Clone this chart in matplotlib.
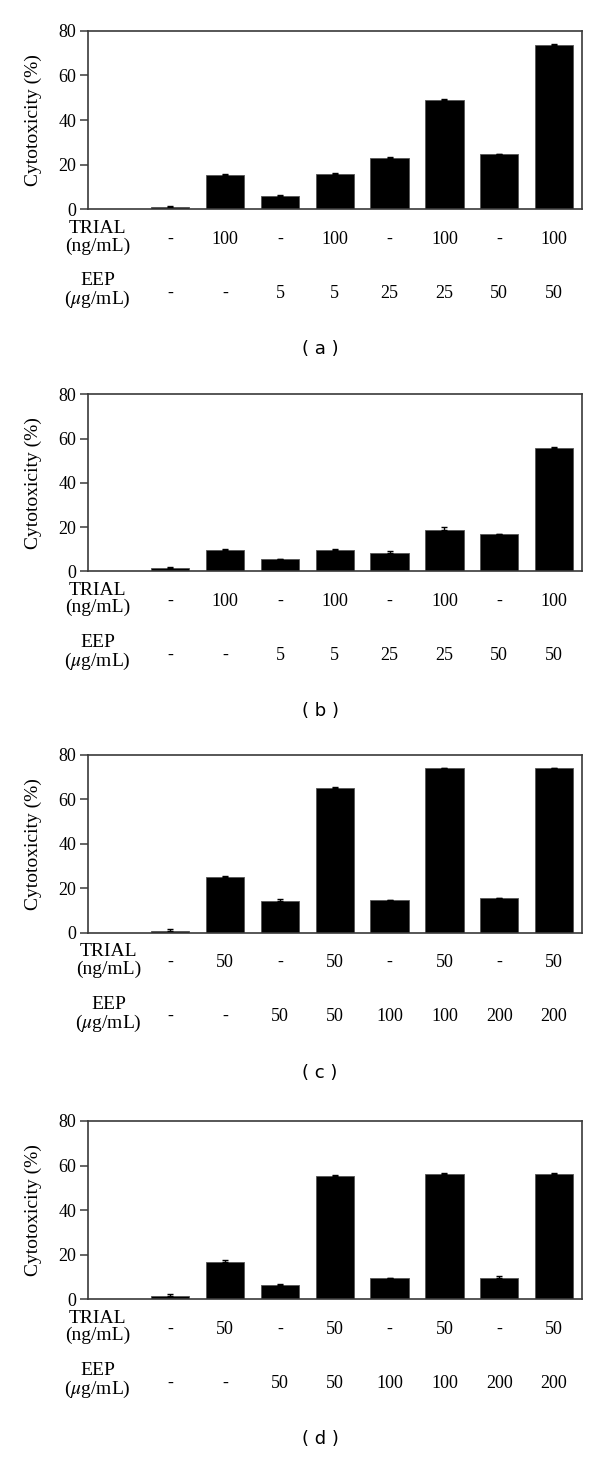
import matplotlib
matplotlib.use("Agg")
import matplotlib.pyplot as plt
import numpy as np

# bar values (category 0 is the empty label slot)
values_a = [1.2, 15.4, 6.0, 16.0, 23.1, 49.0, 24.6, 73.8]
errors_a = [0.3, 0.3, 0.3, 0.3, 0.3, 0.3, 0.3, 0.3]
values_b = [1.7, 9.6, 5.4, 9.6, 8.4, 18.8, 16.9, 55.9]
errors_b = [0.3, 0.3, 0.2, 0.3, 0.7, 1.2, 0.0, 0.2]
values_c = [0.8, 25.1, 14.1, 65.3, 14.7, 74.0, 15.5, 74.0]
errors_c = [1.0, 0.3, 0.9, 0.3, 0.0, 0.0, 0.3, 0.3]
values_d = [1.5, 16.6, 6.6, 55.5, 9.4, 56.4, 9.4, 56.4]
errors_d = [1.0, 1.0, 0.3, 0.3, 0.3, 0.3, 1.0, 0.3]

trial_ab = ["-", "100", "-", "100", "-", "100", "-", "100"]
eep_ab = ["-", "-", "5", "5", "25", "25", "50", "50"]
trial_cd = ["-", "50", "-", "50", "-", "50", "-", "50"]
eep_cd = ["-", "-", "50", "50", "100", "100", "200", "200"]

panel_tags = ["( a )", "( b )", "( c )", "( d )"]
y_ticks = [0, 20, 40, 60, 80]

SERIF = ["Liberation Serif", "DejaVu Serif"]
FS_TICK = 13
FS_ROW = 14
SPINE = "#3a3a3a"

plt.rcParams.update({"font.family": SERIF, "mathtext.fontset": "stix"})

fig = plt.figure(figsize=(6, 14.6), dpi=100)

# axes boxes in figure fraction: left, bottom, width, height
boxes = [
    (0.1467, 0.8566, 0.8225, 0.1223),
    (0.1467, 0.6087, 0.8225, 0.1212),
    (0.1467, 0.3612, 0.8225, 0.1217),
    (0.1467, 0.1101, 0.8225, 0.1221),
]
panels = [
    (values_a, errors_a, trial_ab, eep_ab, -0.33),
    (values_b, errors_b, trial_ab, eep_ab, -0.33),
    (values_c, errors_c, trial_cd, eep_cd, -0.12),
    (values_d, errors_d, trial_cd, eep_cd, -0.33),
]


def px(v):
    # pixels -> points at dpi 100
    return v * 72 / 100


for box, (vals, errs, trial, eep, lab_x), tag in zip(boxes, panels, panel_tags):
    ax = fig.add_axes(box)
    x = np.arange(1, len(vals) + 1)
    ax.bar(x, vals, width=0.7, color="black", edgecolor="#555555", linewidth=0.6)
    ax.errorbar(x, vals, yerr=[np.zeros(len(errs)), errs], fmt="none",
                ecolor="black", elinewidth=1.0, capsize=2.5, capthick=1.0)
    ax.set_xlim(-0.5, 8.5)
    ax.set_ylim(0, 80)
    ax.set_yticks(y_ticks)
    ax.set_yticklabels([str(t) for t in y_ticks], fontsize=FS_TICK)
    ax.set_xticks([])
    ax.tick_params(axis="y", direction="out", length=5.5, width=1.1, color=SPINE, pad=3)
    for side in ("top", "right", "left", "bottom"):
        ax.spines[side].set_color(SPINE)
        ax.spines[side].set_linewidth(1.2)
    ax.set_ylabel("Cytotoxicity (%)", fontsize=14, labelpad=12)

    for xi, t, e in zip(x, trial, eep):
        ax.annotate(t, xy=(xi, 0), xycoords=("data", "axes fraction"),
                    xytext=(0, -px(30)), textcoords="offset points",
                    ha="center", va="center", fontsize=FS_TICK)
        ax.annotate(e, xy=(xi, 0), xycoords=("data", "axes fraction"),
                    xytext=(0, -px(84)), textcoords="offset points",
                    ha="center", va="center", fontsize=FS_TICK)
    ax.annotate("TRIAL\n(ng/mL)", xy=(lab_x, 0), xycoords=("data", "axes fraction"),
                xytext=(0, -px(28)), textcoords="offset points",
                ha="center", va="center", fontsize=FS_ROW, linespacing=1.0)
    ax.annotate("EEP\n($\\mu$g/mL)", xy=(lab_x, 0), xycoords=("data", "axes fraction"),
                xytext=(0, -px(82)), textcoords="offset points",
                ha="center", va="center", fontsize=FS_ROW, linespacing=1.0)
    ax.annotate(tag, xy=(0.5, 0), xycoords=("figure fraction", "axes fraction"),
                xytext=(px(20), -px(140)), textcoords="offset points",
                ha="center", va="center", fontsize=13, family="DejaVu Sans")

fig.savefig("out.png", dpi=100)
